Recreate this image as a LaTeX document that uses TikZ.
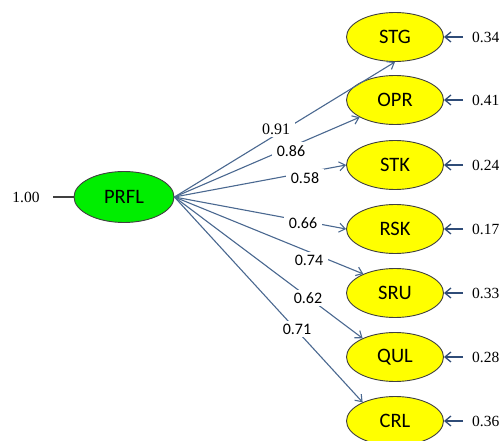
\documentclass[tikz,border=0pt]{standalone}
\usepackage{fontspec}
\setmainfont{Liberation Serif}
\newfontfamily\calfont{Carlito}
\usetikzlibrary{arrows.meta,shapes.geometric}
\definecolor{linecol}{HTML}{4A6890}
\definecolor{rescol}{HTML}{2F4C78}
\definecolor{greenfill}{HTML}{00EE00}
\definecolor{yellowfill}{HTML}{FFFF00}
\begin{document}
\begin{tikzpicture}[x=1pt,y=-1pt,
  latent/.style={ellipse,draw=black!75,line width=0.9pt,fill=greenfill,minimum width=100pt,minimum height=51pt,inner sep=0pt,font=\calfont\fontsize{20.5}{22}\selectfont},
  obs/.style={ellipse,draw=black!75,line width=0.9pt,fill=yellowfill,minimum width=97pt,minimum height=49pt,inner sep=0pt,font=\calfont\fontsize{20.5}{22}\selectfont},
  load/.style={fill=white,inner xsep=5pt,inner ysep=3pt,font=\calfont\fontsize{16}{17}\selectfont},
  loadserif/.style={fill=white,inner xsep=5pt,inner ysep=3pt,font=\fontsize{16}{17}\selectfont},
  res/.style={anchor=west,inner sep=0pt,font=\fontsize{15.5}{17}\selectfont},
  path/.style={draw=linecol,line width=1.1pt,-{Straight Barb[length=6pt,width=9pt,line width=1.1pt]}},
  resarrow/.style={draw=rescol,line width=1.3pt,-{Straight Barb[length=6pt,width=10pt,line width=1.3pt]}}
]
\useasboundingbox (0,0) rectangle (499,441);
\node[latent] (PRFL) at (124,197) {PRFL};
\node[obs] (STG) at (395,37) {STG};
\node[obs] (OPR) at (395,100) {OPR};
\node[obs] (STK) at (395,165) {STK};
\node[obs] (RSK) at (395,229) {RSK};
\node[obs] (SRU) at (395,293) {SRU};
\node[obs] (QUL) at (395,357) {QUL};
\node[obs] (CRL) at (395,421) {CRL};

\node[anchor=center,inner sep=0pt,font=\fontsize{15.5}{17}\selectfont] (one) at (26,197) {1.00};
\coordinate (onee) at (53,197);
\draw[black!75,line width=1.4pt] (onee) -- (PRFL.west);

\draw[path] (PRFL.east) -- (STG.south);
\draw[path] (PRFL.east) -- (OPR.206);
\draw[path] (PRFL.east) -- (STK.west);
\draw[path] (PRFL.east) -- (RSK.west);
\draw[path] (PRFL.east) -- (SRU.149);
\draw[path] (PRFL.east) -- (QUL.150);
\draw[path] (PRFL.east) -- (CRL.150);

\node[loadserif] (l1) at (276,129) {0.91};
\node[load] (l2) at (291,151) {0.86};
\node[load] (l3) at (305,178) {0.58};
\node[load] (l4) at (303,223) {0.66};
\node[load] (l5) at (309,260) {0.74};
\node[load] (l6) at (308,298) {0.62};
\node[load] (l7) at (297,329) {0.71};

\foreach \n/\v in {STG/0.34,OPR/0.41,STK/0.24,RSK/0.17,SRU/0.33,QUL/0.28,CRL/0.36}{
  \node[res] (r\n) at (472,0 |- \n) {\v};
  \coordinate (t\n) at (463,0 |- \n);
  \draw[resarrow] (t\n) -- (\n.east);
}
\end{tikzpicture}
\end{document}
